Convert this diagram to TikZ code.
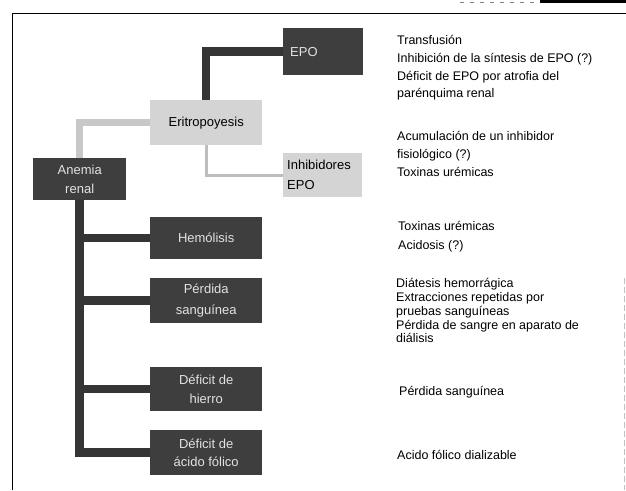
\documentclass[tikz,border=0pt]{standalone}
\usepackage{fontspec}
\setmainfont{Liberation Sans}
\definecolor{boxdark}{HTML}{3E3E3E}
\definecolor{boxlight}{HTML}{D4D4D4}
\definecolor{boxtext}{HTML}{E2E2E2}
\definecolor{linkdark}{HTML}{353535}
\definecolor{linklight}{HTML}{C8C8C8}
\definecolor{linkthin}{HTML}{BDBDBD}
\begin{document}
\begin{tikzpicture}[x=1pt,y=-1pt,
  boxbase/.style={draw=none, inner sep=0pt, anchor=north west,
    font=\fontsize{13}{19}\selectfont},
  darkbox/.style={boxbase, fill=boxdark, text=boxtext, align=center},
  lightbox/.style={boxbase, fill=boxlight, text=black, align=center},
  darklink/.style={draw=linkdark, line width=8.5pt},
  lightlink/.style={draw=linklight, line width=7pt},
  thinlink/.style={draw=linkthin, line width=3pt},
  note/.style={anchor=base west, inner sep=0pt, font=\fontsize{12.5}{15}\selectfont}]
\useasboundingbox (0,0) rectangle (626,490);
\fill[white] (0,0) rectangle (626,490);
% frame (scanned page)
\draw[line width=1.6pt] (12.5,490) -- (12.5,13.5) -- (626,13.5);
\draw[line width=3pt] (540,1.5) -- (626,1.5);
\draw[line width=0.8pt, dash pattern=on 4pt off 6pt, gray] (460,2) -- (540,2);
\draw[line width=1pt, dash pattern=on 6pt off 3pt, black!25] (624,278) -- (624,490);

% boxes
\node[darkbox, minimum width=80pt, minimum height=47pt, text width=66pt, inner xsep=7pt, align=left] (epo) at (283,28) {EPO};
\node[lightbox, minimum width=112pt, minimum height=45pt] (erit) at (150,100) {Eritropoyesis};
\node[darkbox, minimum width=93pt, minimum height=42pt] (anemia) at (33,158) {Anemia\\renal};
\node[lightbox, minimum width=79pt, minimum height=44pt, text width=71pt, inner xsep=4pt, align=left, font=\fontsize{13}{20}\selectfont] (inhib) at (283,153) {Inhibidores\\EPO};
\node[darkbox, minimum width=112pt, minimum height=42pt] (hemo) at (150,217) {Hemólisis};
\node[darkbox, minimum width=112pt, minimum height=45pt, font=\fontsize{13}{21}\selectfont] (perdida) at (150,278) {Pérdida\\sanguínea};
\node[darkbox, minimum width=112pt, minimum height=44pt] (hierro) at (150,367) {Déficit de\\hierro};
\node[darkbox, minimum width=112pt, minimum height=45pt, font=\fontsize{13}{18}\selectfont] (folico) at (150,430) {Déficit de\\ácido fólico};

% connectors
\draw[darklink] (epo.west) -| (erit.north);
\draw[lightlink] (erit.west) -| (anemia.north);
\draw[thinlink] (erit.south) |- (inhib.west);
\draw[darklink] (anemia.south) |- (folico.west);
\draw[darklink] (anemia.south |- hemo.west) -- (hemo.west);
\draw[darklink] (anemia.south |- perdida.west) -- (perdida.west);
\draw[darklink] (anemia.south |- hierro.west) -- (hierro.west);

% notes
\node[note] (n1) at (397,44) {Transfusión};
\node[note] (n2) at (397,62) {Inhibición de la síntesis de EPO (?)};
\node[note] (n3) at (397,80) {Déficit de EPO por atrofia del};
\node[note] (n4) at (397,97.5) {parénquima renal};
\node[note] (n5) at (397,140) {Acumulación de un inhibidor};
\node[note] (n6) at (397,158) {fisiológico (?)};
\node[note] (n7) at (397,176) {Toxinas urémicas};
\node[note] (n8) at (398,230) {Toxinas urémicas};
\node[note] (n9) at (398,249) {Acidosis (?)};
\node[note] (n10) at (396,287) {Diátesis hemorrágica};
\node[note] (n11) at (396,301) {Extracciones repetidas por};
\node[note] (n12) at (396,315) {pruebas sanguíneas};
\node[note] (n13) at (396,329) {Pérdida de sangre en aparato de};
\node[note] (n14) at (396,342) {diálisis};
\node[note] (n15) at (399,395) {Pérdida sanguínea};
\node[note] (n16) at (397,459) {Acido fólico dializable};
\end{tikzpicture}
\end{document}
